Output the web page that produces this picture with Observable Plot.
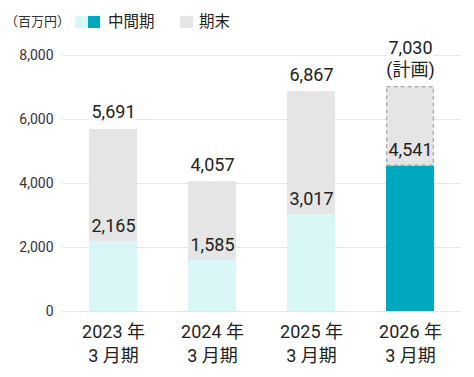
<!DOCTYPE html>
<html><head><meta charset="utf-8">
<script src="https://cdn.jsdelivr.net/npm/d3@7"></script>
<script src="https://cdn.jsdelivr.net/npm/@observablehq/plot@0.6"></script>
<style>
body{margin:0;background:#fff;font-family:Roboto,"Noto Sans CJK JP",sans-serif;color:#222;}
#legend{position:relative;height:36px;width:474px;}
#legend span{position:absolute;white-space:nowrap;}
.sw{width:12px;height:12px;top:16px;}
.lt{font-size:15.5px;line-height:16px;top:14px;}
#chart svg{display:block;}
</style></head><body>
<div id="legend"></div>
<div id="chart"></div>
<script>
const years = ["2023", "2024", "2025", "2026"];
const xLabels = ["2023 年\n3 月期", "2024 年\n3 月期", "2025 年\n3 月期", "2026 年\n3 月期"];
const interim = [2165, 1585, 3017, 4541];
const total = [5691, 4057, 6867, 7030];
const planFlags = [false, false, false, true];
const totalNotes = ["", "", "", "(計画)"];
const yTicks = [0, 2000, 4000, 6000, 8000];
const unitLabel = "（百万円）";
const legendLabels = ["中間期", "期末"];

const cLight = "#d9f7f7", cTeal = "#00a8bf", cGray = "#e5e5e5";

// legend
const lg = document.getElementById("legend");
lg.innerHTML = `
<span style="left:5px;top:14px;font-size:13px;line-height:16px;color:#333">${unitLabel}</span>
<span class="sw" style="left:75px;background:${cLight}"></span>
<span class="sw" style="left:88px;background:${cTeal}"></span>
<span class="lt" style="left:108px">${legendLabels[0]}</span>
<span class="sw" style="left:180px;width:13px;background:${cGray}"></span>
<span class="lt" style="left:199px">${legendLabels[1]}</span>`;

const rows = years.map((y, i) => ({
  label: xLabels[i], interim: interim[i], total: total[i], plan: planFlags[i], note: totalNotes[i]
}));
const fmt = d3.format(",");

const chart = Plot.plot({
  width: 474, height: 341,
  marginTop: 19, marginBottom: 66, marginLeft: 62, marginRight: 14,
  style: {fontFamily: 'Roboto, "Noto Sans CJK JP", sans-serif', color: "#222", background: "#fff"},
  x: {domain: xLabels, paddingInner: 0.52, paddingOuter: 0.26},
  y: {domain: [0, 8000]},
  marks: [
    Plot.ruleY(yTicks, {stroke: "#e6e6e6", strokeWidth: 1.2}),
    Plot.barY(rows.filter(d => !d.plan), {x: "label", y1: "interim", y2: "total", fill: cGray}),
    Plot.barY(rows.filter(d => d.plan), {x: "label", y1: "interim", y2: "total", fill: cGray, stroke: "#a9a9a9", strokeWidth: 1.3, strokeDasharray: "4,3", inset: 0.6}),
    Plot.barY(rows.filter(d => !d.plan), {x: "label", y1: 0, y2: "interim", fill: cLight}),
    Plot.barY(rows.filter(d => d.plan), {x: "label", y1: 0, y2: "interim", fill: cTeal}),
    Plot.text(rows, {x: "label", y: "total", text: d => d.note ? fmt(d.total) + "\n" + d.note : fmt(d.total),
      lineAnchor: "bottom", dy: -11, fontSize: 18, lineHeight: 1.17, fill: "#222",
      stroke: "white", strokeWidth: 9, paintOrder: "stroke", strokeLinejoin: "round"}),
    Plot.text(rows, {x: "label", y: "interim", text: d => fmt(d.interim),
      lineAnchor: "bottom", dy: -10, fontSize: 18, fill: "#222"}),
    Plot.axisY({ticks: yTicks, tickSize: 0, tickPadding: 9, tickFormat: fmt, fontSize: 14, label: null, fill: "#333"}),
    Plot.axisX({tickSize: 0, tickPadding: 10, fontSize: 18, label: null, lineHeight: 1.3, fill: "#222"})
  ]
});
document.getElementById("chart").appendChild(chart);
</script>
</body></html>
